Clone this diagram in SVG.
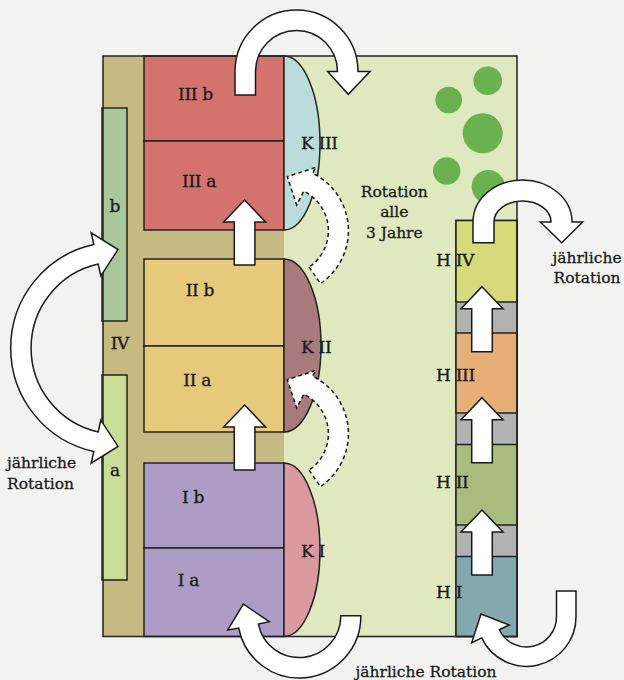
<svg xmlns="http://www.w3.org/2000/svg" width="624" height="680" viewBox="0 0 624 680">
  <defs>
    <style>
      .ln { stroke: #222; stroke-width: 1.5; }
      .arrow { fill: #fff; stroke: #1a1a1a; stroke-width: 1.5; stroke-linejoin: miter; }
      .dashed { fill: #fff; stroke: #1a1a1a; stroke-width: 1.5; stroke-dasharray: 4 3; }
      .lbl { font-family: "DejaVu Serif", "Liberation Serif", serif; font-size: 17px; fill: #1a1a1a; stroke: #1a1a1a; stroke-width: 0.35; letter-spacing: -0.3px; }
      .note { font-family: "DejaVu Serif", "Liberation Serif", serif; font-size: 15.5px; fill: #1a1a1a; stroke: #1a1a1a; stroke-width: 0.3; }
      .tree { fill: #6ab150; }
    </style>
    <!-- straight upward block arrow, tip at origin -->
    <path id="up" d="M0,0 L21,22 L10.3,22 L10.3,65 L-10.3,65 L-10.3,22 L-21,22 Z"/>
    <!-- dashed curved arrow between K beds -->
    <path id="kcurve" d="M309.1,267.1 L320.4,283.6 A64,64 0 0 0 312.6,173.2 L316,167.3 L287.3,176.7 L296.7,205 L303.8,191.2 A44,44 0 0 1 309.1,267.1 Z"/>
  </defs>

  <!-- paper background -->
  <rect width="624" height="680" fill="#f2f2f0"/>

  <!-- garden ground -->
  <g id="garden">
    <rect x="103" y="56" width="414" height="581" fill="#e0e8bf"/>
    <rect x="103" y="56" width="181" height="581" fill="#c6b982"/>
  </g>

  <!-- strip IV with parts a and b -->
  <g id="strip-b">
    <rect x="102" y="108" width="25" height="213" fill="#a9c79a" class="ln"/>
  </g>
  <g id="strip-a">
    <rect x="102" y="375" width="25" height="205" fill="#c9dd97" class="ln"/>
  </g>

  <!-- main beds -->
  <g id="bed-III">
    <rect x="144" y="56" width="140" height="85" fill="#d4736e" class="ln"/>
    <rect x="144" y="141" width="140" height="89" fill="#d4736e" class="ln"/>
  </g>
  <g id="bed-II">
    <rect x="144" y="259" width="140" height="87" fill="#e6c97a" class="ln"/>
    <rect x="144" y="346" width="140" height="86" fill="#e6c97a" class="ln"/>
  </g>
  <g id="bed-I">
    <rect x="144" y="463" width="140" height="85" fill="#ad9dc6" class="ln"/>
    <rect x="144" y="548" width="140" height="88.5" fill="#ad9dc6" class="ln"/>
  </g>

  <!-- K beds -->
  <g id="k-III">
    <path d="M284,56 A36,87 0 0 1 284,230 Z" fill="#bcdcdc" class="ln"/>
  </g>
  <g id="k-II">
    <path d="M284,259 A37,86.5 0 0 1 284,432 Z" fill="#a97a7b" class="ln"/>
  </g>
  <g id="k-I">
    <path d="M284,463 A36,86.7 0 0 1 284,636.5 Z" fill="#d9999f" class="ln"/>
  </g>

  <!-- H column -->
  <g id="h-column">
    <rect x="456" y="220.5" width="61" height="416" fill="#b2b2b2" class="ln"/>
  </g>
  <g id="h-IV">
    <rect x="456" y="220.5" width="61" height="81.5" fill="#d5da7b" class="ln"/>
  </g>
  <g id="h-III">
    <rect x="456" y="333" width="61" height="80" fill="#e7af78" class="ln"/>
  </g>
  <g id="h-II">
    <rect x="456" y="444.5" width="61" height="80.5" fill="#a9bc7d" class="ln"/>
  </g>
  <g id="h-I">
    <rect x="456" y="556.5" width="61" height="80" fill="#83a8ad" class="ln"/>
  </g>

  <!-- trees -->
  <g id="trees">
    <circle class="tree" cx="487.7" cy="80.7" r="14.3"/>
    <circle class="tree" cx="448.7" cy="100" r="13.3"/>
    <circle class="tree" cx="482.7" cy="133.3" r="20"/>
    <circle class="tree" cx="446.7" cy="171" r="13.7"/>
    <circle class="tree" cx="488.3" cy="186.7" r="16.7"/>
  </g>

  <!-- garden outline -->
  <rect x="103" y="56" width="414" height="580.5" fill="none" class="ln"/>

  <!-- rotation arrows -->
  <g id="connectors">
    <!-- III b loop -->
    <path class="arrow" d="M235,95 L235,71.5 A61.5,61.5 0 0 1 358,71.5 L370,71.5 L348.3,94.3 L327.7,71.5 L337.5,71.5 A41,41 0 0 0 255.5,71.5 L255.5,95 Z"/>
    <!-- a / b swap -->
    <path class="arrow" d="M93.8,244.5 A106,106 0 0 0 93.8,451.5 L91.2,463.2 L118,446.4 L100.8,420.2 L98.2,431.9 A86,86 0 0 1 98.2,264.1 L100.8,275.8 L118,249.6 L91.2,232.8 Z"/>
    <!-- bed progression -->
    <use href="#up" class="arrow" x="244.6" y="200"/>
    <use href="#up" class="arrow" x="244.6" y="405"/>
    <!-- K progression -->
    <use href="#kcurve" class="dashed"/>
    <use href="#kcurve" class="dashed" y="203"/>
    <!-- I a loop -->
    <path class="arrow" d="M360.8,615.7 L360.8,616.2 A61.6,61.6 0 0 1 238.7,628 L227.7,630 L243.3,604 L269.3,621.7 L258.4,624.1 A41.6,41.6 0 0 0 340.8,616.2 L340.8,615.7 Z"/>
    <!-- H progression -->
    <use href="#up" class="arrow" x="482" y="286.7"/>
    <use href="#up" class="arrow" x="482" y="397.7"/>
    <use href="#up" class="arrow" x="482" y="510"/>
    <!-- H IV loop -->
    <path class="arrow" d="M473,242.7 L473,222 A49.5,42 0 0 1 572,222 L582.7,222 L561.7,242.7 L540.3,222 L551,222 A28.5,21 0 0 0 494,222 L494,242.7 Z"/>
    <!-- H I loop -->
    <path class="arrow" d="M576,591 L576,617 A49.5,49.5 0 0 1 481.7,637.9 L471.7,642.7 L481,614 L509.3,625 L499.3,629.7 A30,30 0 0 0 556.5,617 L556.5,591 Z"/>
  </g>

  <!-- labels -->
  <g id="labels">
    <text class="lbl" x="178" y="100">III b</text>
    <text class="lbl" x="182" y="186.7">III a</text>
    <text class="lbl" x="301" y="149">K III</text>
    <text class="lbl" x="185.7" y="295.7">II b</text>
    <text class="lbl" x="183.3" y="386">II a</text>
    <text class="lbl" x="301" y="353.3">K II</text>
    <text class="lbl" x="182" y="503.3">I b</text>
    <text class="lbl" x="177.7" y="585.7">I a</text>
    <text class="lbl" x="301" y="556.7">K I</text>
    <text class="lbl" x="110.7" y="349.3">IV</text>
    <text class="lbl" x="109.5" y="211.7">b</text>
    <text class="lbl" x="110" y="476">a</text>
    <text class="lbl" x="436" y="265.7">H IV</text>
    <text class="lbl" x="436" y="381">H III</text>
    <text class="lbl" x="436" y="488">H II</text>
    <text class="lbl" x="436" y="598">H I</text>
    <text class="note" x="7" y="468.3">jährliche</text>
    <text class="note" x="7" y="488.7">Rotation</text>
    <text class="note" x="587" y="262.7" text-anchor="middle">jährliche</text>
    <text class="note" x="587" y="283.3" text-anchor="middle">Rotation</text>
    <text class="note" x="394.3" y="196.7" text-anchor="middle">Rotation</text>
    <text class="note" x="394.3" y="216.7" text-anchor="middle">alle</text>
    <text class="note" x="394.3" y="238" text-anchor="middle">3 Jahre</text>
    <text class="note" x="426" y="676.7" text-anchor="middle">jährliche Rotation</text>
  </g>
</svg>
